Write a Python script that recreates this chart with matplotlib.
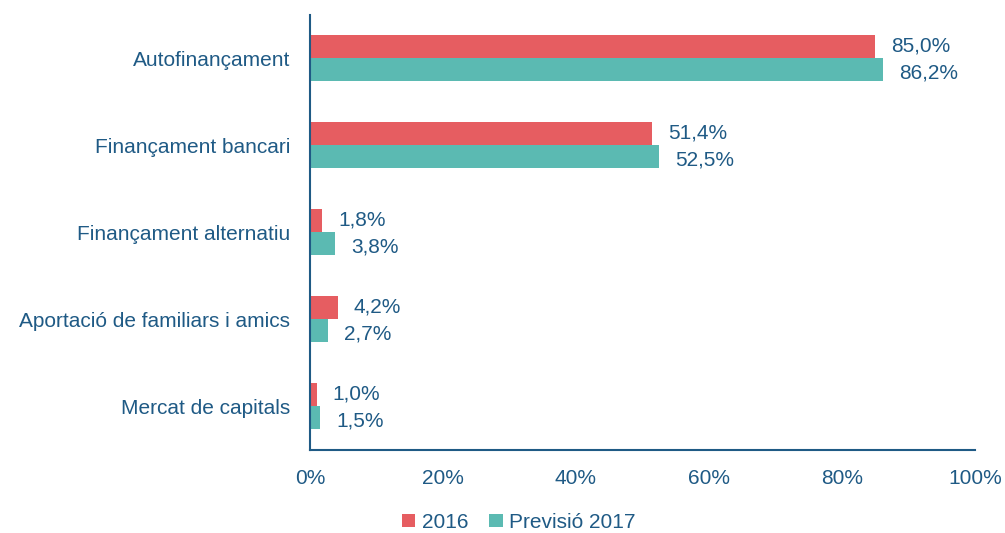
import numpy as np
import matplotlib.pyplot as plt
from matplotlib.ticker import PercentFormatter

categories = ['Autofinançament', 'Finançament bancari', 'Finançament alternatiu',
              'Aportació de familiars i amics', 'Mercat de capitals']
vals_2016 = [85.0, 51.4, 1.8, 4.2, 1.0]
vals_2017 = [86.2, 52.5, 3.8, 2.7, 1.5]
series_names = ['2016', 'Previsió 2017']

red = '#E65D61'
teal = '#5BBAB2'
txt = '#1F5A85'
fs = 15

plt.rcParams['font.family'] = ['Liberation Sans', 'DejaVu Sans']

fig = plt.figure(figsize=(10.05, 5.33), dpi=100)
ax = fig.add_axes([0.3085, 0.156, 0.6615, 0.816])

y = np.arange(len(categories))
h = 0.265
b1 = ax.barh(y - h/2, vals_2016, height=h, color=red, label=series_names[0])
b2 = ax.barh(y + h/2, vals_2017, height=h, color=teal, label=series_names[1])

for bars, vals, dy in [(b1, vals_2016, 1), (b2, vals_2017, -3)]:
    for rect, v in zip(bars, vals):
        ax.annotate('{:.1f}%'.format(v).replace('.', ','),
                    (rect.get_width(), rect.get_y() + rect.get_height()/2),
                    xytext=(16, dy), textcoords='offset pixels',
                    va='center', ha='left', fontsize=fs, color=txt)

ax.set_xlim(0, 100)
ax.set_ylim(len(categories) - 0.5, -0.5)
ax.set_xticks(np.arange(0, 101, 20))
ax.xaxis.set_major_formatter(PercentFormatter(decimals=0))
ax.set_yticks(y)
ax.set_yticklabels(categories)
ax.tick_params(axis='both', length=0, labelsize=fs, labelcolor=txt)
ax.tick_params(axis='x', pad=14)
ax.tick_params(axis='y', pad=14.5)

for s in ['top', 'right']:
    ax.spines[s].set_visible(False)
for s in ['left', 'bottom']:
    ax.spines[s].set_color(txt)
    ax.spines[s].set_linewidth(1.5)

fig.legend(handles=[b1, b2], loc='center', bbox_to_anchor=(0.516, 0.02),
           ncol=2, frameon=False, fontsize=fs, labelcolor=txt,
           handlelength=0.65, handleheight=0.65, handletextpad=0.3, columnspacing=1.0)

fig.savefig('out.png', dpi=100)
